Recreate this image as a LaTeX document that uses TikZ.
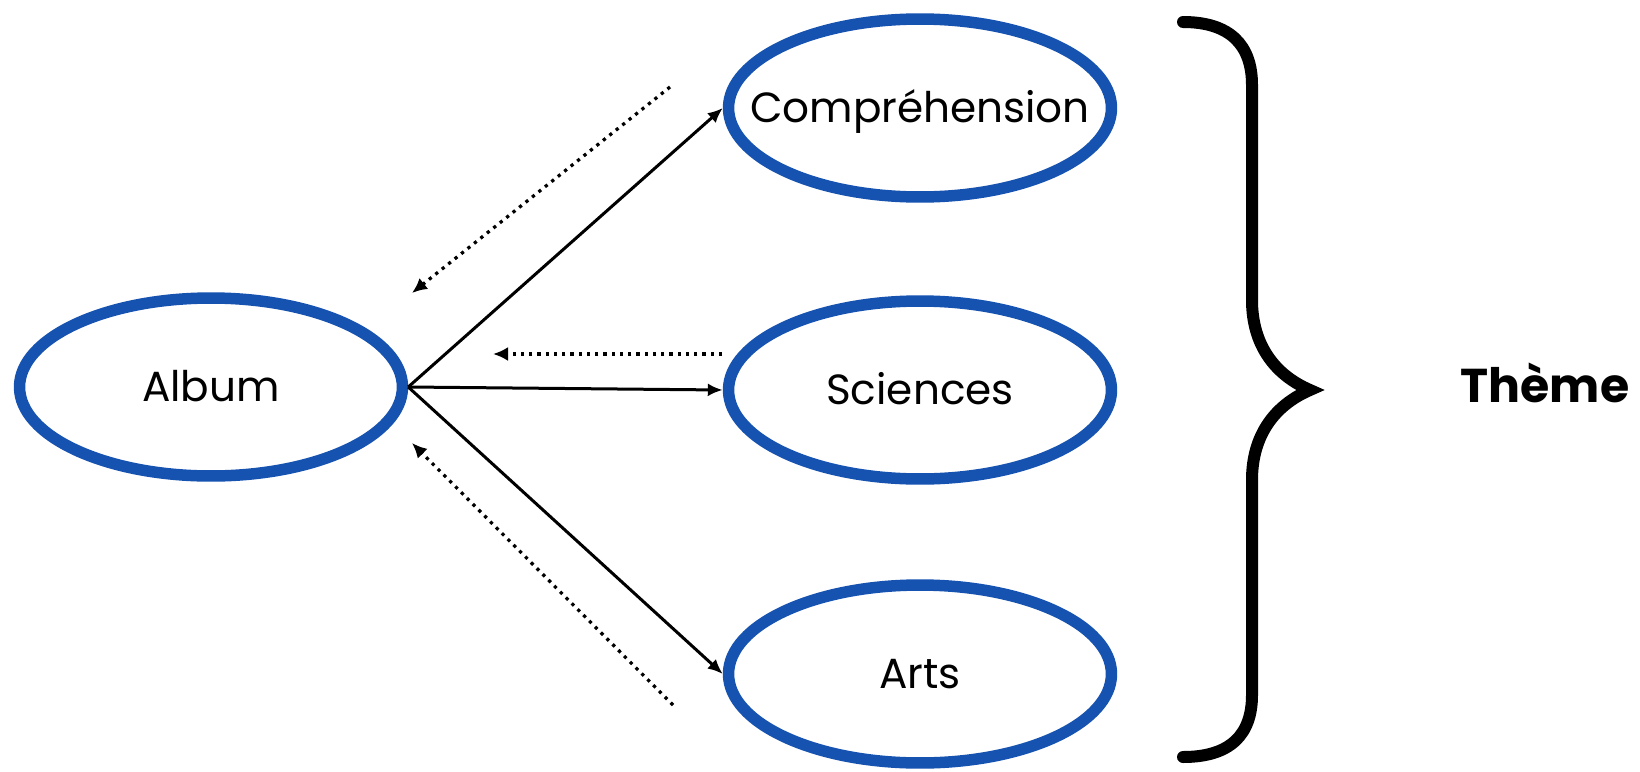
\documentclass[tikz,border=0pt]{standalone}
\usepackage{fontspec}
\setmainfont{Poppins}
\usetikzlibrary{arrows.meta,shapes.geometric}
\definecolor{bleuovale}{RGB}{22,82,176}
\tikzset{
	bulle/.style={ellipse, draw=bleuovale, line width=0.23cm, minimum width=7.66cm, minimum height=3.56cm, inner sep=0pt, text height=17pt, text depth=0pt, font=\fontsize{24}{29}\selectfont},
	fleche/.style={line width=0.06cm, -{Latex[length=0.3cm, width=0.26cm]}},
	retour/.style={line width=0.065cm, dash pattern=on 0.065cm off 0.1cm, -{Latex[length=0.3cm, width=0.28cm]}}
}

\begin{document}
\begin{tikzpicture}[x=0.02cm, y=-0.02cm]
			%%%%% START %%%%%
			
			\useasboundingbox (0, 0) rectangle (1640, 771);
			
			\node[bulle] (album) at (211, 387) {\makebox[0pt]{Album}};
			\node[bulle] (comprehension) at (920, 108) {\makebox[0pt]{Compréhension}};
			\node[bulle] (sciences) at (920, 390) {\makebox[0pt]{Sciences}};
			\node[bulle] (arts) at (920, 674) {\makebox[0pt]{Arts}};
			
			\draw[fleche] (album.east) -- (comprehension.west);
			\draw[fleche] (album.east) -- (sciences.west);
			\draw[fleche] (album.east) -- (arts.west);
			
			\coordinate (haut1) at (670, 87);
			\coordinate (haut2) at (412, 293);
			\coordinate (milieu1) at (722, 354);
			\coordinate (milieu2) at (493, 354);
			\coordinate (bas1) at (673, 705);
			\coordinate (bas2) at (412, 443);
			
			\draw[retour] (haut1) -- (haut2);
			\draw[retour] (milieu1) -- (milieu2);
			\draw[retour] (bas1) -- (bas2);
			
			\draw[line width=0.24cm, line cap=round] (1183, 22) .. controls (1230, 22) and (1252, 45) .. (1252, 85) -- (1252, 300) .. controls (1252, 345) and (1275, 375) .. (1310, 390) .. controls (1275, 405) and (1252, 435) .. (1252, 480) -- (1252, 695) .. controls (1252, 735) and (1230, 757) .. (1183, 757);
			
			\node[anchor=base, font=\fontsize{27}{32}\selectfont\bfseries] (theme) at (1545, 402) {Thème};
			
			%%%%% END %%%%%
\end{tikzpicture}
\end{document}
